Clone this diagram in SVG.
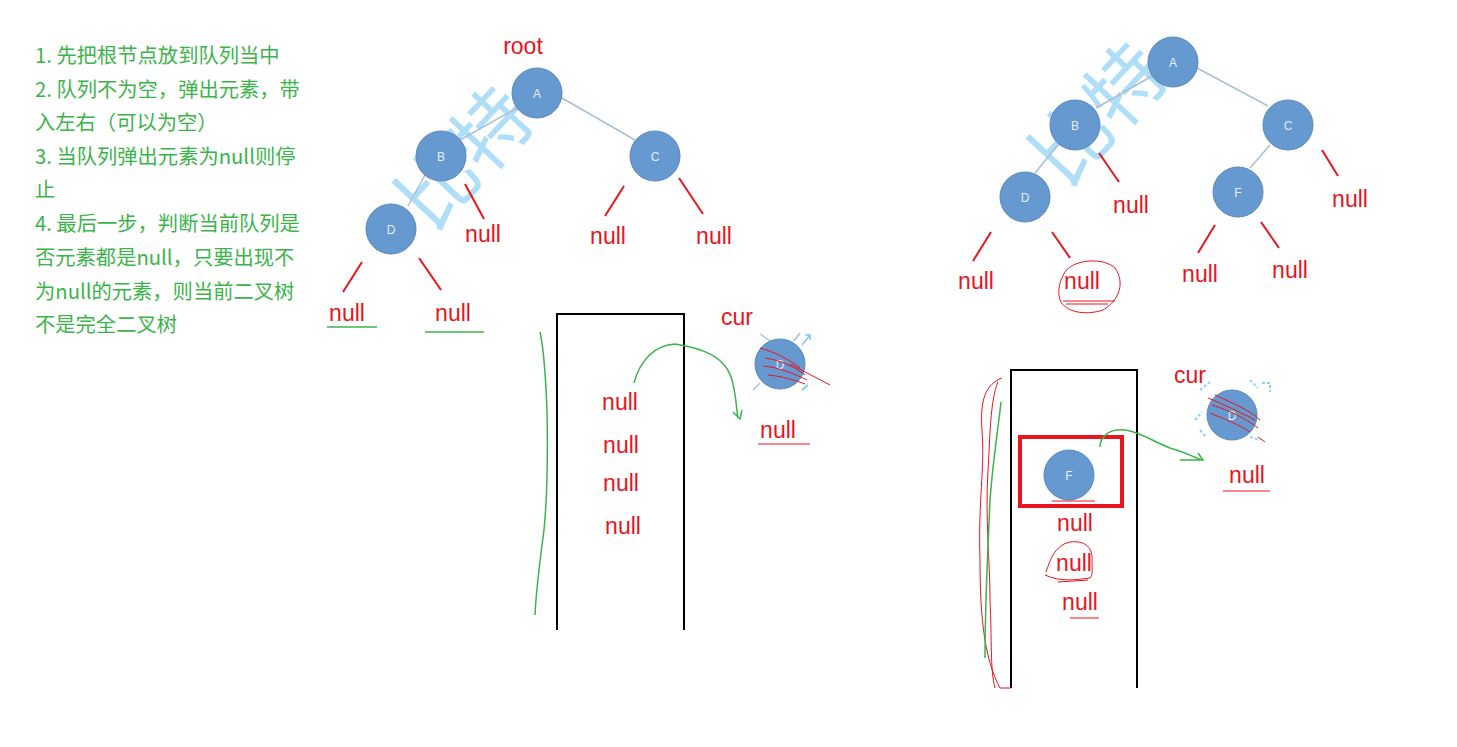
<svg xmlns="http://www.w3.org/2000/svg" width="1457" height="747" viewBox="0 0 1457 747">
<style>
.note{font-family:"Noto Sans CJK SC","Liberation Sans",sans-serif;font-size:20.3px;fill:#3cb44b}
.nl{font-family:"Liberation Sans","Noto Sans",sans-serif;font-size:23px;fill:#e8141e;text-anchor:middle}
.lbl{font-family:"Liberation Sans",sans-serif;font-size:12px;fill:#e4eef8;text-anchor:middle}
.node{fill:#6699d0;stroke:#5a88bd;stroke-width:1}
.edge{stroke:#a9bfd6;stroke-width:1.5;fill:none}
.red{stroke:#e8141e;stroke-width:2;fill:none}
.thin{stroke:#e8141e;stroke-width:1;fill:none}
.grn{stroke:#3cb44b;stroke-width:1.5;fill:none}
.box{stroke:#000;stroke-width:2;fill:none}
.wm{font-family:"Noto Sans CJK SC",sans-serif;font-size:78px;fill:#a6dcf7;fill-opacity:0.9}
</style>
<rect width="1457" height="747" fill="#fff"/>
<g id="notes" class="note">
<text x="35" y="63">1. 先把根节点放到队列当中</text>
<text x="35" y="97">2. 队列不为空，弹出元素，带</text>
<text x="35" y="130">入左右（可以为空）</text>
<text x="35" y="164">3. 当队列弹出元素为null则停</text>
<text x="35" y="197">止</text>
<text x="35" y="231">4. 最后一步，判断当前队列是</text>
<text x="35" y="265">否元素都是null，只要出现不</text>
<text x="35" y="299">为null的元素，则当前二叉树</text>
<text x="35" y="332">不是完全二叉树</text>
</g>
<g id="watermark">
<text class="wm" transform="translate(432,234) rotate(-47)">比特</text>
<text class="wm" transform="translate(1066,190) rotate(-47)">比特</text>
</g>
<g id="connectors">
<line class="edge" x1="517" y1="108" x2="460" y2="140"/>
<line class="edge" x1="562" y1="98" x2="635" y2="140"/>
<line class="edge" x1="425" y1="175" x2="408" y2="206"/>
<line class="edge" x1="1152" y1="76" x2="1096" y2="108"/>
<line class="edge" x1="1197" y1="68" x2="1268" y2="106"/>
<line class="edge" x1="1058" y1="145" x2="1035" y2="173"/>
<line class="edge" x1="1270" y1="145" x2="1250" y2="168"/>
<line class="red" x1="465" y1="184" x2="484" y2="219"/>
<line class="red" x1="624" y1="186" x2="605" y2="216"/>
<line class="red" x1="679" y1="178" x2="703" y2="214"/>
<line class="red" x1="362" y1="262" x2="343" y2="292"/>
<line class="red" x1="419" y1="258" x2="441" y2="290"/>
<line class="red" x1="1099" y1="153" x2="1119" y2="182"/>
<line class="red" x1="1322" y1="150" x2="1338" y2="176"/>
<line class="red" x1="991" y1="232" x2="973" y2="261"/>
<line class="red" x1="1052" y1="232" x2="1070" y2="258"/>
<line class="red" x1="1215" y1="225" x2="1198" y2="253"/>
<line class="red" x1="1261" y1="222" x2="1279" y2="248"/>
</g>
<g id="tree1">
<text x="523" y="54" class="nl">root</text>
<g id="t1A"><circle class="node" cx="537" cy="93" r="25"/><text class="lbl" x="537" y="98">A</text></g>
<g id="t1B"><circle class="node" cx="441" cy="156" r="25"/><text class="lbl" x="441" y="161">B</text></g>
<g id="t1C"><circle class="node" cx="655" cy="156" r="25"/><text class="lbl" x="655" y="161">C</text></g>
<g id="t1D"><circle class="node" cx="391" cy="229" r="25"/><text class="lbl" x="391" y="234">D</text></g>
<g id="t1n1"><text class="nl" x="483" y="242">null</text></g>
<g id="t1n2"><text class="nl" x="608" y="244">null</text></g>
<g id="t1n3"><text class="nl" x="714" y="244">null</text></g>
<g id="t1n4"><text class="nl" x="347" y="321">null</text><line class="grn" x1="327" y1="327" x2="377" y2="327"/></g>
<g id="t1n5"><text class="nl" x="453" y="321">null</text><line class="grn" x1="425" y1="332" x2="484" y2="332"/></g>
</g>
<g id="queue1">
<path class="box" d="M557,630 V314 H684 V630"/>
<text class="nl" x="620" y="410">null</text>
<text class="nl" x="621" y="453">null</text>
<text class="nl" x="621" y="491">null</text>
<text class="nl" x="623" y="534">null</text>
<path class="grn" d="M540,332 C543,345 545,360 547,410 C548,460 547,500 544,530 C540,560 536,590 535,615"/>
<path class="grn" d="M634,383 C640,360 655,345 675,344 C700,348 725,355 732,380 C736,395 736,405 738,418 M733,412 L740,419 L742,410"/>
<text class="nl" x="737" y="325">cur</text>
<g id="cur1">
<line x1="760" y1="334" x2="772" y2="342" stroke="#a9bfd6" stroke-width="1.5"/>
<line x1="794" y1="341" x2="800" y2="333" stroke="#a9bfd6" stroke-width="1.5"/>
<line x1="753" y1="390" x2="760" y2="383" stroke="#a9bfd6" stroke-width="1.5"/>
<path d="M802,345 L810,335 M805,335 L810,335 L810,340" stroke="#7cc8f0" stroke-width="1.5" fill="none"/>
<path d="M802,390 L808,385" stroke="#7cc8f0" stroke-width="2"/>
<circle class="node" cx="780" cy="364" r="25"/>
<text class="lbl" x="780" y="369">D</text>
<path class="thin" d="M760,348 C775,352 790,360 800,368 M765,358 C780,360 795,367 805,375 M763,366 C778,367 795,374 807,380 M768,375 C780,376 795,380 805,384 M790,364 L830,385"/>
</g>
<text class="nl" x="778" y="438">null</text>
<line class="thin" x1="758" y1="444" x2="810" y2="444"/>
</g>
<g id="tree2">
<g id="t2A"><circle class="node" cx="1173" cy="62" r="25"/><text class="lbl" x="1173" y="67">A</text></g>
<g id="t2B"><circle class="node" cx="1075" cy="125" r="25"/><text class="lbl" x="1075" y="130">B</text></g>
<g id="t2C"><circle class="node" cx="1288" cy="125" r="25"/><text class="lbl" x="1288" y="130">C</text></g>
<g id="t2D"><circle class="node" cx="1025" cy="197" r="25"/><text class="lbl" x="1025" y="202">D</text></g>
<g id="t2F"><circle class="node" cx="1238" cy="192" r="25"/><text class="lbl" x="1238" y="197">F</text></g>
<text class="nl" x="1131" y="213">null</text>
<text class="nl" x="1350" y="207">null</text>
<text class="nl" x="976" y="289">null</text>
<g id="t2circ"><text class="nl" x="1082" y="289">null</text>
<path class="thin" d="M1063,301 L1115,301 M1066,304 L1108,304 M1065,272 C1075,258 1105,258 1115,268 C1125,282 1120,300 1103,310 C1085,316 1065,312 1060,300 C1057,290 1060,280 1065,272"/></g>
<text class="nl" x="1200" y="282">null</text>
<text class="nl" x="1290" y="278">null</text>
</g>
<g id="queue2">
<path class="box" d="M1011,688 V370 H1137 V688"/>
<rect x="1020" y="437" width="102" height="69" fill="none" stroke="#e8141e" stroke-width="4"/>
<g id="q2F"><circle class="node" cx="1069" cy="475" r="25"/><text class="lbl" x="1069" y="480">F</text></g>
<line class="thin" x1="1052" y1="501" x2="1095" y2="501"/>
<text class="nl" x="1075" y="531">null</text>
<text class="nl" x="1074" y="571">null</text>
<path class="thin" d="M1046,572 C1050,560 1055,545 1070,542 C1085,540 1093,548 1092,560 C1092,570 1093,575 1090,578 C1075,580 1060,582 1045,575 M1058,582 L1088,580"/>
<text class="nl" x="1080" y="610">null</text>
<line class="thin" x1="1070" y1="618" x2="1099" y2="618"/>
<path class="thin" d="M1002,378 C985,385 980,400 982,430 C985,470 978,500 980,560 C980,620 985,660 1000,688 L1011,688 M998,382 C990,400 990,440 988,470 C985,520 990,560 990,600 C992,640 990,670 995,688"/>
<path class="grn" d="M1001,402 C998,430 993,460 990,500 C988,550 985,600 985,658"/>
<path class="grn" d="M1100,447 C1100,438 1108,428 1125,430 C1140,432 1150,440 1170,448 C1185,452 1195,458 1202,460 M1180,460 L1203,460 L1198,453"/>
<text class="nl" x="1190" y="383">cur</text>
<g id="cur2">
<path d="M1200,390 L1210,382 M1250,380 L1258,388 M1262,383 L1270,383 L1270,392 M1200,430 L1206,437 M1195,420 L1202,412 M1250,437 L1260,440" stroke="#8fd3f5" stroke-width="2" fill="none" stroke-dasharray="3 2"/>
<circle class="node" cx="1232" cy="415" r="25"/>
<text class="lbl" x="1232" y="420">D</text>
<path class="thin" d="M1208,398 C1225,405 1240,412 1255,420 M1212,405 C1228,410 1245,418 1258,428 M1210,413 C1222,418 1240,425 1250,432 M1215,395 C1230,402 1250,410 1260,420 M1258,437 L1265,442"/>
</g>
<text class="nl" x="1247" y="483">null</text>
<line class="thin" x1="1223" y1="491" x2="1270" y2="491"/>
</g>
</svg>
